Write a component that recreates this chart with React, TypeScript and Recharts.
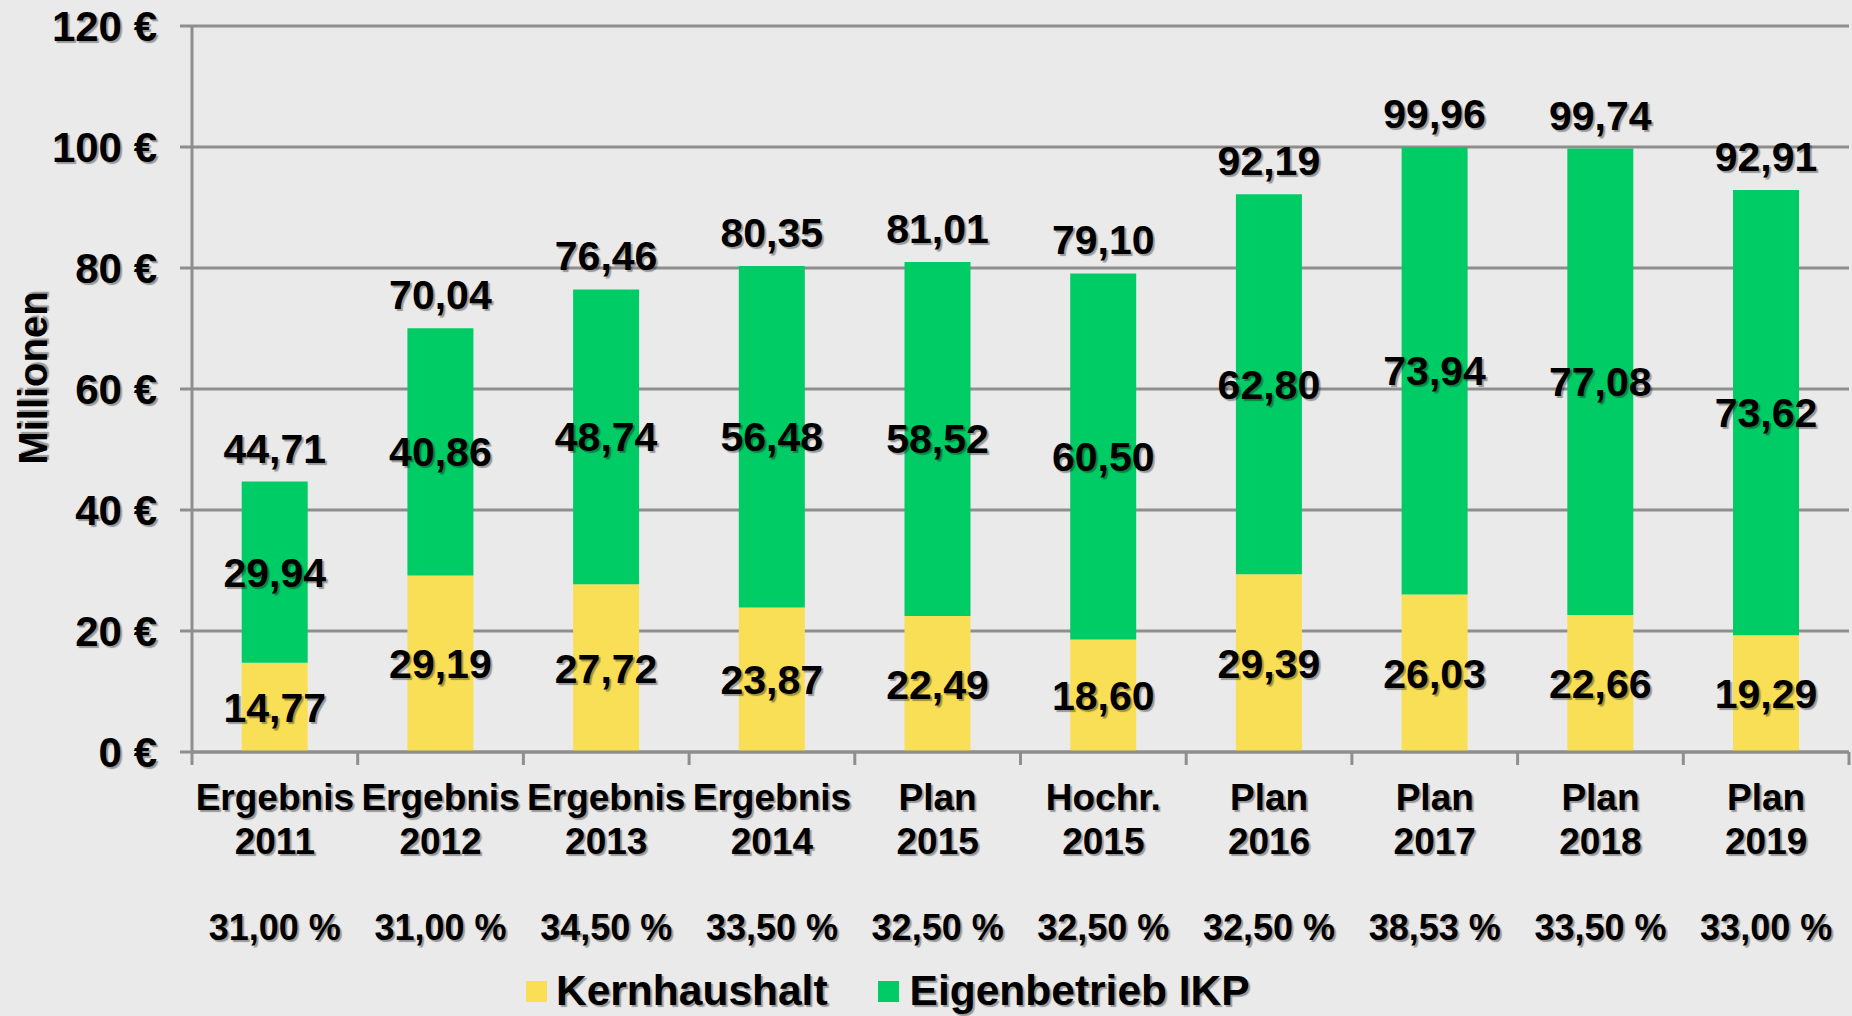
import React from 'react';
import { BarChart, Bar, XAxis, YAxis, CartesianGrid, LabelList, Legend } from 'recharts';

const catLine1 = ['Ergebnis', 'Ergebnis', 'Ergebnis', 'Ergebnis', 'Plan', 'Hochr.', 'Plan', 'Plan', 'Plan', 'Plan'];
const catLine2 = ['2011', '2012', '2013', '2014', '2015', '2015', '2016', '2017', '2018', '2019'];
const percents = ['31,00 %', '31,00 %', '34,50 %', '33,50 %', '32,50 %', '32,50 %', '32,50 %', '38,53 %', '33,50 %', '33,00 %'];
const kernhaushalt = [14.77, 29.19, 27.72, 23.87, 22.49, 18.6, 29.39, 26.03, 22.66, 19.29];
const eigenbetrieb = [29.94, 40.86, 48.74, 56.48, 58.52, 60.5, 62.8, 73.94, 77.08, 73.62];
const totals = [44.71, 70.04, 76.46, 80.35, 81.01, 79.1, 92.19, 99.96, 99.74, 92.91];
const yTicks = [0, 20, 40, 60, 80, 100, 120];

const data = catLine1.map((l1, i) => ({
  name: `${l1} ${catLine2[i]}`,
  line1: l1,
  line2: catLine2[i],
  pct: percents[i],
  kern: kernhaushalt[i],
  ikp: eigenbetrieb[i],
  total: totals[i],
}));

const FONT = '"Liberation Sans", Arial, sans-serif';
const YELLOW = '#F9DF55';
const GREEN = '#00CC66';
const GRID = '#8E8E8E';
const BG = '#EAEAEA';
const SHADOW = '2px 2px 1px rgba(0,0,0,0.35)';

const fmt = (v: any) => Number(v).toFixed(2).replace('.', ',');

const CatTick = (props: any) => {
  const { x, y, payload, index } = props;
  const half = payload.offset || 0;
  const d = data[index] || data.find((e) => e.name === payload.value);
  const txt = { fontFamily: FONT, fontWeight: 'bold' as const, fill: '#000', textAnchor: 'middle' as const, style: { textShadow: SHADOW } };
  return (
    <g>
      <line x1={x - half} x2={x - half} y1={y} y2={y + 13} stroke={GRID} strokeWidth={3} />
      {index === data.length - 1 && (
        <line x1={x + half} x2={x + half} y1={y} y2={y + 13} stroke={GRID} strokeWidth={3} />
      )}
      <text x={x} y={y + 58} fontSize={37} {...txt}>{d ? d.line1 : ''}</text>
      <text x={x} y={y + 102} fontSize={37} {...txt}>{d ? d.line2 : ''}</text>
      <text x={x} y={y + 188} fontSize={36} {...txt}>{d ? d.pct : ''}</text>
    </g>
  );
};

const AxisTitle = (props: any) => {
  const vb = props.viewBox || { x: 0, y: 0, height: 0 };
  const cx = vb.x + 33;
  const cy = vb.y + vb.height / 2 - 11;
  return (
    <text
      x={cx}
      y={cy}
      transform={`rotate(-90, ${cx}, ${cy})`}
      textAnchor="middle"
      dominantBaseline="central"
      fontFamily={FONT}
      fontWeight="bold"
      fontSize={40}
      fill="#000"
      style={{ textShadow: SHADOW }}
    >
      Millionen
    </text>
  );
};

const LegendContent = () => (
  <div style={{ display: 'flex', alignItems: 'center', fontFamily: FONT, fontWeight: 'bold', fontSize: 42.5, color: '#000', textShadow: SHADOW, whiteSpace: 'nowrap' }}>
    <span style={{ display: 'inline-block', width: 21, height: 21, background: YELLOW, marginRight: 9 }} />
    <span>Kernhaushalt</span>
    <span style={{ display: 'inline-block', width: 21, height: 21, background: GREEN, marginLeft: 50, marginRight: 11 }} />
    <span>Eigenbetrieb IKP</span>
  </div>
);

const labelStyle = { fontFamily: FONT, fontWeight: 'bold', fontSize: 41, fill: '#000', textShadow: SHADOW } as any;

export default function App() {
  return (
    <div style={{ position: 'absolute', left: 0, top: 0, width: 1852, height: 1016, background: BG }}>
      <BarChart
        width={1852}
        height={1016}
        data={data}
        margin={{ top: 26, right: 3, left: 0, bottom: 0 }}
        barCategoryGap="30%"
      >
        <CartesianGrid vertical={false} stroke={GRID} strokeWidth={3} />
        <XAxis
          dataKey="name"
          height={264}
          axisLine={{ stroke: GRID, strokeWidth: 3 }}
          tickLine={false}
          tickSize={0}
          tickMargin={0}
          interval={0}
          tick={<CatTick />}
        />
        <YAxis
          width={192}
          domain={[0, 120]}
          ticks={yTicks}
          interval={0}
          tickFormatter={(v: number) => `${v} €`}
          axisLine={{ stroke: GRID, strokeWidth: 3 }}
          tickLine={{ stroke: GRID, strokeWidth: 3 }}
          tickSize={12}
          tickMargin={23}
          tick={{ fontFamily: FONT, fontWeight: 'bold', fontSize: 42, fill: '#000', style: { textShadow: SHADOW } } as any}
          label={<AxisTitle />}
        />
        <Legend
          layout="horizontal"
          verticalAlign="middle"
          align="center"
          wrapperStyle={{ left: 526, top: 967, width: 'auto' }}
          content={<LegendContent />}
        />
        <Bar dataKey="kern" name="Kernhaushalt" stackId="a" fill={YELLOW} isAnimationActive={false}>
          <LabelList dataKey="kern" position="center" formatter={fmt} style={labelStyle} />
        </Bar>
        <Bar dataKey="ikp" name="Eigenbetrieb IKP" stackId="a" fill={GREEN} isAnimationActive={false}>
          <LabelList dataKey="ikp" position="center" formatter={fmt} style={labelStyle} />
          <LabelList dataKey="total" position="top" offset={19} formatter={fmt} style={labelStyle} />
        </Bar>
      </BarChart>
    </div>
  );
}
